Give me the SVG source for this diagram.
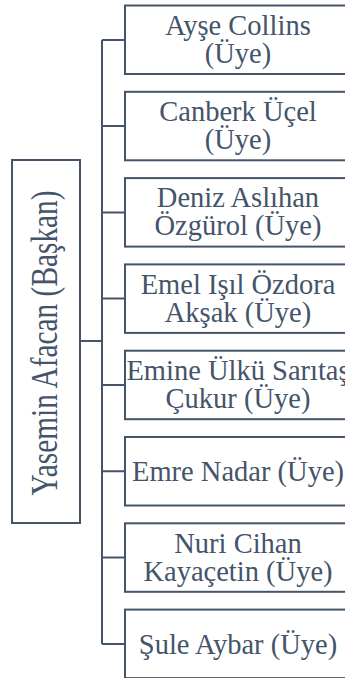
<svg xmlns="http://www.w3.org/2000/svg" width="345" height="678" viewBox="0 0 345 678">
<style>
.box{fill:#ffffff;stroke:#44546a;stroke-width:2}
.conn{fill:none;stroke:#44546a;stroke-width:2}
.t{font-family:'Liberation Serif','DejaVu Serif',serif;font-size:28.5px;fill:#44546a;text-anchor:middle}
</style>
<rect width="345" height="678" fill="#ffffff"/>
<g id="connectors">
<path class="conn" d="M80 341H102M102 40V644M102 40H125M102 126H125M102 212.4H125M102 298.6H125M102 385H125M102 471.3H125M102 557.6H125M102 643.9H125"/>
</g>
<g id="head">
<rect class="box" x="12" y="160" width="68" height="363"/>
<text class="t" font-family="Liberation Serif, serif" transform="translate(57,343) rotate(-90) scale(1.03,1.35)">Yasemin Afacan (Başkan)</text>
</g>
<g id="n1">
<rect class="box" x="125" y="5.5" width="226" height="68.5"/>
<text class="t" font-family="Liberation Serif, serif" x="238" y="35">Ayşe Collins</text>
<text class="t" font-family="Liberation Serif, serif" x="238" y="63">(Üye)</text>
</g>
<g id="n2">
<rect class="box" x="125" y="91.8" width="226" height="68.5"/>
<text class="t" font-family="Liberation Serif, serif" x="238" y="121">Canberk Üçel</text>
<text class="t" font-family="Liberation Serif, serif" x="238" y="149">(Üye)</text>
</g>
<g id="n3">
<rect class="box" x="125" y="178.1" width="226" height="68.5"/>
<text class="t" font-family="Liberation Serif, serif" x="238" y="207">Deniz Aslıhan</text>
<text class="t" font-family="Liberation Serif, serif" x="238" y="235">Özgürol (Üye)</text>
</g>
<g id="n4">
<rect class="box" x="125" y="264.4" width="226" height="68.5"/>
<text class="t" font-family="Liberation Serif, serif" x="238" y="294">Emel Işıl Özdora</text>
<text class="t" font-family="Liberation Serif, serif" x="238" y="322">Akşak (Üye)</text>
</g>
<g id="n5">
<rect class="box" x="125" y="350.7" width="226" height="68.5"/>
<text class="t" font-family="Liberation Serif, serif" x="238" y="380">Emine Ülkü Sarıtaş</text>
<text class="t" font-family="Liberation Serif, serif" x="238" y="408">Çukur (Üye)</text>
</g>
<g id="n6">
<rect class="box" x="125" y="437" width="226" height="68.5"/>
<text class="t" font-family="Liberation Serif, serif" x="238" y="481">Emre Nadar (Üye)</text>
</g>
<g id="n7">
<rect class="box" x="125" y="523.3" width="226" height="68.5"/>
<text class="t" font-family="Liberation Serif, serif" x="238" y="553">Nuri Cihan</text>
<text class="t" font-family="Liberation Serif, serif" x="238" y="581">Kayaçetin (Üye)</text>
</g>
<g id="n8">
<rect class="box" x="125" y="609.6" width="226" height="68.5"/>
<text class="t" font-family="Liberation Serif, serif" x="238" y="654">Şule Aybar (Üye)</text>
</g>
</svg>
